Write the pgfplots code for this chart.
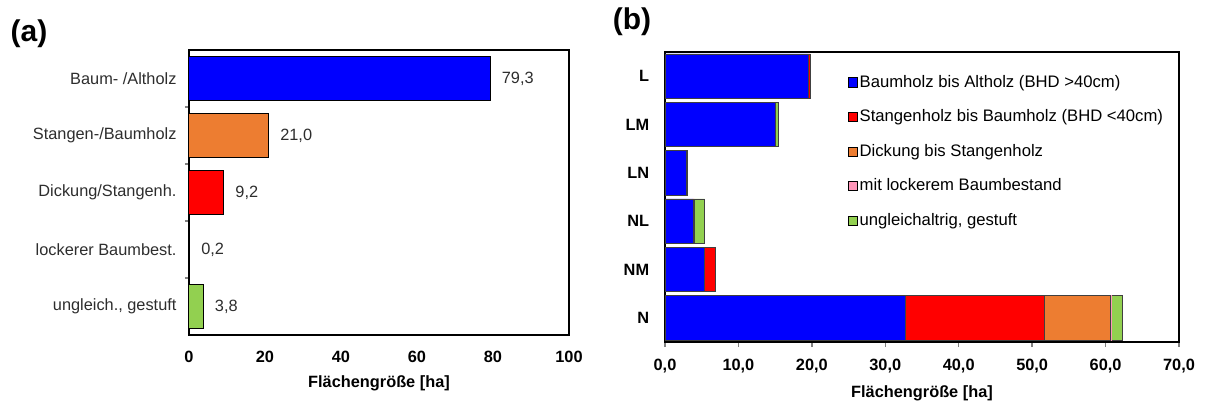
\documentclass[border=0pt]{standalone}
\usepackage{fontspec}
\setmainfont{Liberation Sans}
\usepackage{pgfplots}
\usepackage{pgfplotstable}
\pgfplotsset{compat=1.18}

\definecolor{cblue}{RGB}{0,0,255}
\definecolor{corange}{RGB}{237,125,49}
\definecolor{cred}{RGB}{255,0,0}
\definecolor{cgreen}{RGB}{146,208,80}
\definecolor{cpink}{RGB}{255,150,185}
\definecolor{txtgray}{RGB}{45,45,45}

% panel (b): Flaechen je Bereich, gestapelt
\pgfplotstableread{
y    blue  red   orange pink green
0    19.5  0.3   0      0    0
1    15.0  0     0      0    0.5
2    2.9   0     0      0    0.2
3    3.8   0.2   0      0    1.4
4    5.3   1.5   0      0    0
5    32.7  18.9  9.0    0.2  1.5
}\datab

\newcommand{\lblfont}{\fontsize{9.8}{11.5}\selectfont}

\begin{document}
\begin{tikzpicture}
\path (0,0) rectangle (723.6pt,241.8pt);
\node[font=\fontsize{18}{20}\selectfont\bfseries] at (17.4pt,221.5pt) {(a)};
\node[font=\fontsize{18}{20}\selectfont\bfseries] at (379.2pt,229pt) {(b)};

\begin{axis}[
    at={(113.4pt,40.8pt)}, anchor=south west,
    scale only axis, width=228pt, height=171pt,
    xbar, bar shift=0pt, bar width=0.77,
    xmin=0, xmax=100, ymin=-0.5, ymax=4.5, y dir=reverse,
    ytick={0,...,4},
    yticklabels={Baum- /Altholz, Stangen-/Baumholz, Dickung/Stangenh., lockerer Baumbest., {ungleich., gestuft}},
    yticklabel style={font=\lblfont, text=txtgray, xshift=-4pt},
    xtick={0,20,...,100},
    xticklabel style={font=\lblfont\bfseries, yshift=-6pt},
    /pgf/number format/assume math mode=true,
    xlabel={Flächengröße [ha]},
    xlabel style={font=\lblfont\bfseries, yshift=-1pt},
    axis line style={line width=1.2pt},
    tick align=outside, xtick pos=left, ytick pos=left,
    major tick length=0pt, minor y tick num=1, minor tick length=2.4pt,
    minor tick style={line width=0.8pt},
    point meta=x,
    nodes near coords={\pgfmathprintnumber[fixed,fixed zerofill,precision=1,use comma]{\pgfplotspointmeta}},
    every node near coord/.append style={font=\lblfont, text=txtgray, anchor=west, inner sep=0pt, xshift=6.6pt},
  ]
  \addplot[fill=cblue, draw=black, line width=0.6pt] coordinates {(79.3,0)};
  \addplot[fill=corange, draw=black, line width=0.6pt] coordinates {(21.0,1)};
  \addplot[fill=cred, draw=black, line width=0.6pt] coordinates {(9.2,2)};
  \addplot[fill=black!60, draw=black, line width=0.6pt] coordinates {(0.2,3)};
  \addplot[fill=cgreen, draw=black, line width=0.6pt] coordinates {(3.8,4)};
\end{axis}

\begin{axis}[
    at={(399pt,36.6pt)}, anchor=south west,
    scale only axis, width=308.4pt, height=174pt,
    xbar stacked, bar width=0.92,
    xmin=0, xmax=70, ymin=-0.5, ymax=5.5, y dir=reverse,
    ytick={0,...,5},
    yticklabels={L,LM,LN,NL,NM,N},
    yticklabel style={font=\lblfont\bfseries, xshift=-3pt},
    xtick={0,10,...,70},
    /pgf/number format/fixed,
    /pgf/number format/fixed zerofill,
    /pgf/number format/precision=1,
    /pgf/number format/use comma,
    /pgf/number format/assume math mode=true,
    xticklabel style={font=\lblfont\bfseries, yshift=-3.5pt},
    xlabel={Flächengröße [ha]},
    xlabel style={font=\lblfont\bfseries, yshift=-1pt},
    axis line style={line width=1.2pt},
    tick align=outside, xtick pos=left, ytick pos=left,
    xtick style={line width=0.8pt}, major tick length=3pt,
    ytick style={draw=none},
    every axis plot/.append style={draw=black!75, line width=0.4pt},
    legend cell align=left,
    legend style={draw=none, fill=none, at={(0.345,0.94)}, anchor=north west,
      font=\fontsize{10}{11.5}\selectfont, row sep=9.6pt,
      nodes={inner sep=1.2pt}},
    legend image code/.code={\draw[#1, draw=black, line width=0.4pt] (0pt,-2.8pt) rectangle (5.6pt,2.8pt);},
  ]
  \addplot[fill=cblue] table[x=blue, y=y] {\datab};
  \addplot[fill=cred] table[x=red, y=y] {\datab};
  \addplot[fill=corange] table[x=orange, y=y] {\datab};
  \addplot[fill=cpink, draw=cpink] table[x=pink, y=y] {\datab};
  \addplot[fill=cgreen] table[x=green, y=y] {\datab};
  \legend{Baumholz bis Altholz (BHD >40cm), Stangenholz bis Baumholz (BHD <40cm), Dickung bis Stangenholz, mit lockerem Baumbestand, {ungleichaltrig, gestuft}}
\end{axis}
\end{tikzpicture}
\end{document}
